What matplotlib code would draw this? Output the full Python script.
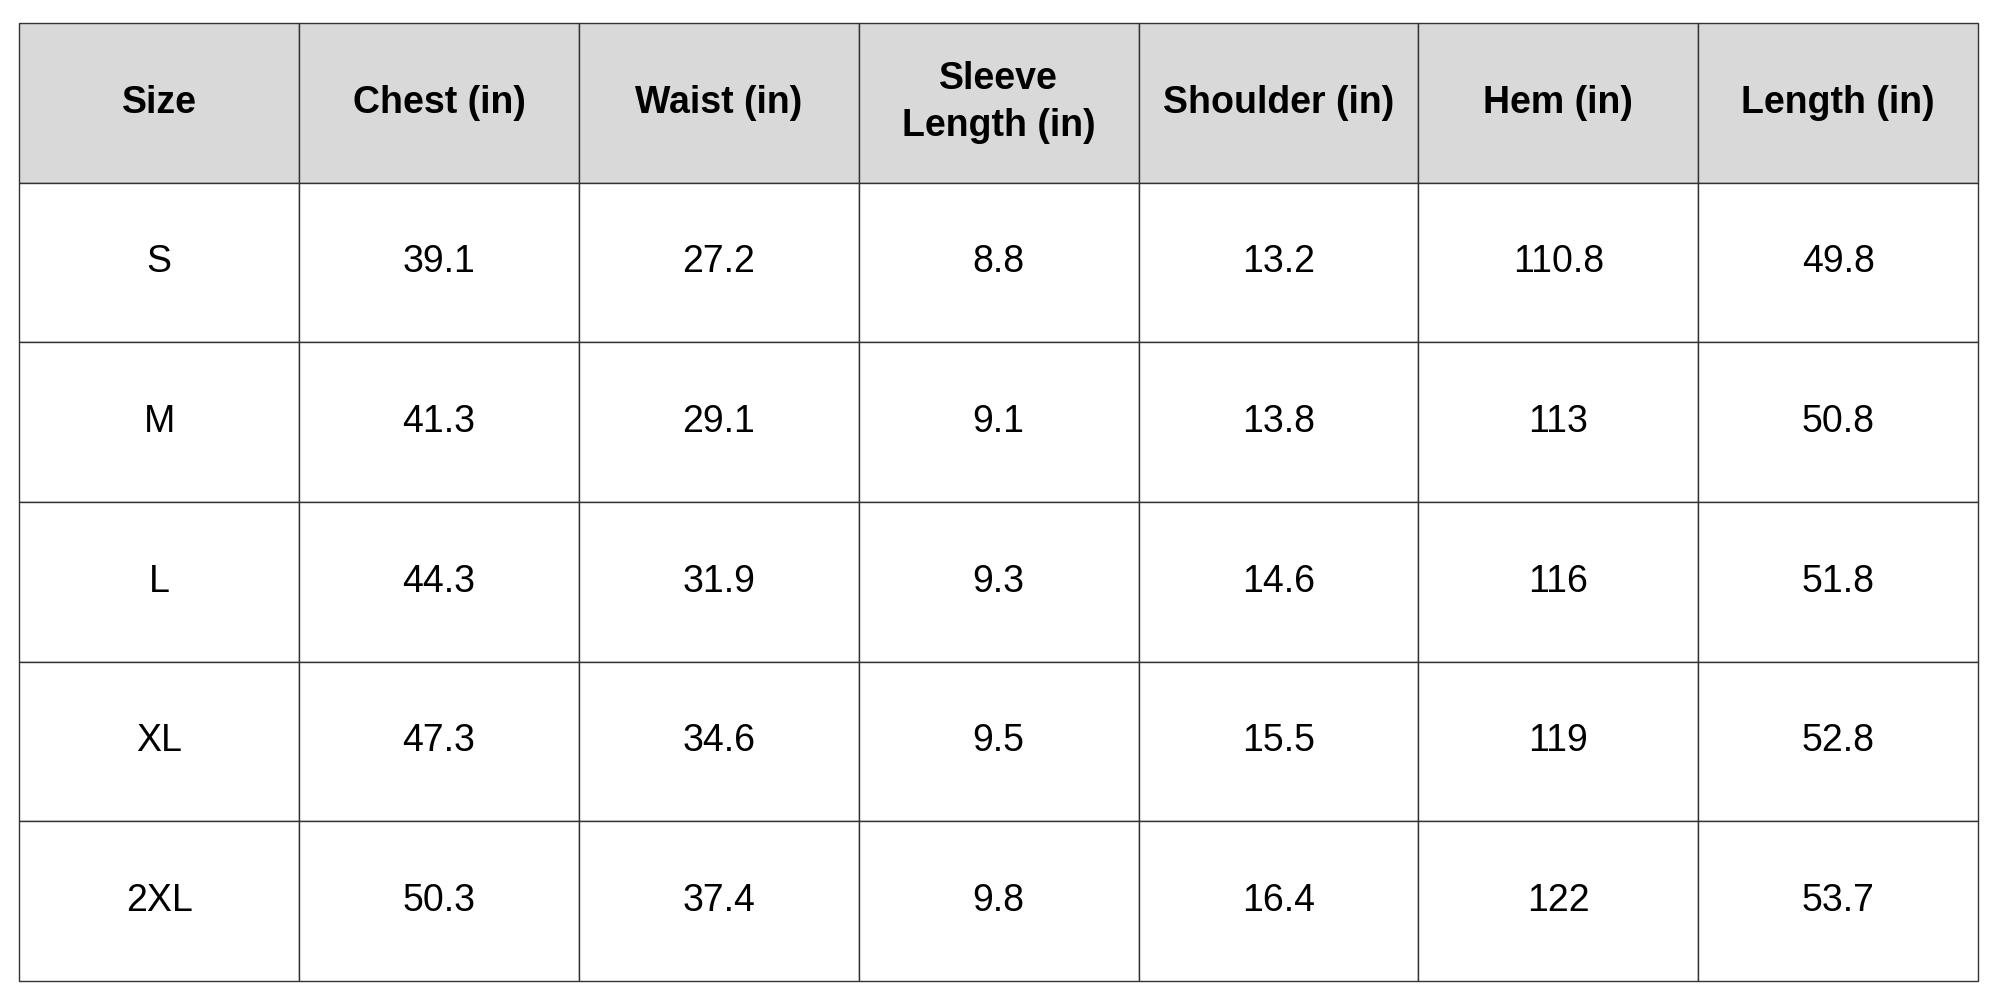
import matplotlib.pyplot as plt

plt.rcParams['font.family'] = ['Liberation Sans', 'DejaVu Sans']

columns = ["Size", "Chest (in)", "Waist (in)", "Sleeve\nLength (in)",
           "Shoulder (in)", "Hem (in)", "Length (in)"]
sizes = ["S", "M", "L", "XL", "2XL"]
chest = ["39.1", "41.3", "44.3", "47.3", "50.3"]
waist = ["27.2", "29.1", "31.9", "34.6", "37.4"]
sleeve = ["8.8", "9.1", "9.3", "9.5", "9.8"]
shoulder = ["13.2", "13.8", "14.6", "15.5", "16.4"]
hem = ["110.8", "113", "116", "119", "122"]
length = ["49.8", "50.8", "51.8", "52.8", "53.7"]

rows = [list(r) for r in zip(sizes, chest, waist, sleeve, shoulder, hem, length)]

fig = plt.figure(figsize=(20, 10), dpi=100)
ax = fig.add_axes([0, 0, 1, 1])
ax.axis('off')

left, right = 15 / 1560, 1543 / 1560
bottom, top = 1 - 765 / 780, 1 - 18 / 780
tbl = ax.table(cellText=rows, colLabels=columns, cellLoc='center',
               bbox=[left, bottom, right - left, top - bottom])
tbl.auto_set_font_size(False)
for (r, c), cell in tbl.get_celld().items():
    cell.set_edgecolor('#333333')
    cell.set_linewidth(1.0)
    cell.get_text().set_fontsize(27)
    if r == 0:
        cell.set_facecolor('#d9d9d9')
        cell.get_text().set_fontweight('bold')
        cell.get_text().set_linespacing(1.4)

fig.savefig("out.png")
